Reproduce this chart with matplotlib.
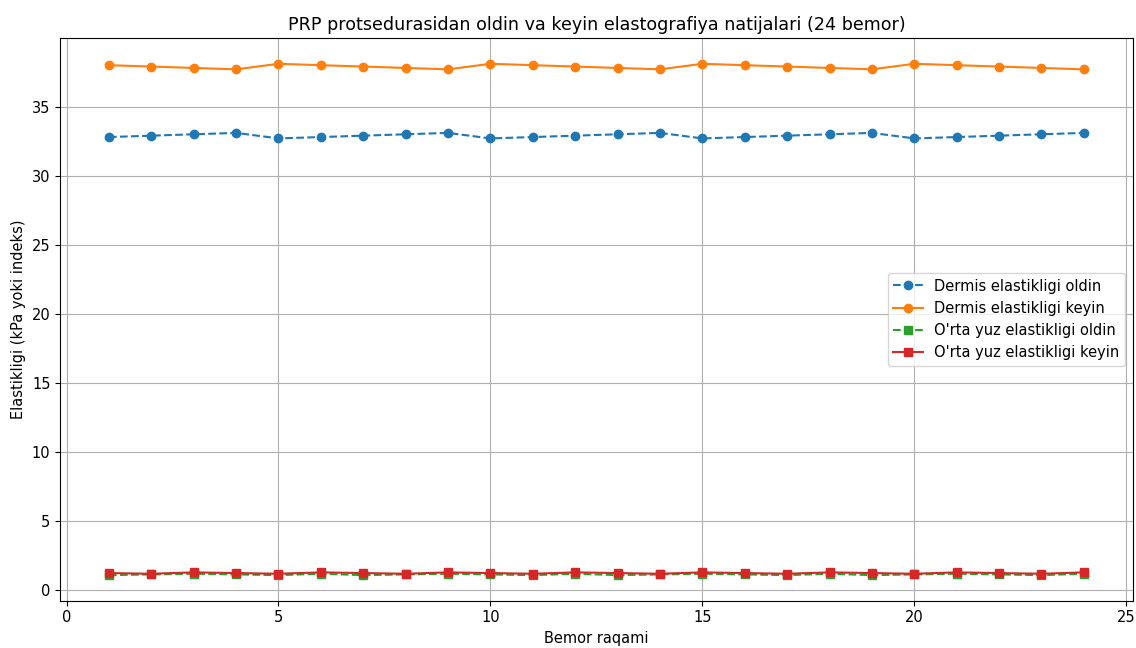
import matplotlib
matplotlib.use('Agg')
import matplotlib.pyplot as plt

# Patient numbers
patients = list(range(1, 25))

# Elastography values (kPa or index)
dermis_before = [32.8, 32.9, 33.0, 33.1, 32.7] * 4 + [32.8, 32.9, 33.0, 33.1]
dermis_after = [38.0, 37.9, 37.8, 37.7, 38.1] * 4 + [38.0, 37.9, 37.8, 37.7]
midface_before = [1.1, 1.15, 1.2, 1.15, 1.1, 1.2] * 4
midface_after = [1.25, 1.2, 1.3, 1.25, 1.2, 1.3] * 4

plt.rcParams['font.size'] = 10.5
plt.figure(figsize=(11.36, 6.48), dpi=100)

plt.plot(patients, dermis_before, label='Dermis elastikligi oldin', marker='o', linestyle='--', color='#1f77b4')
plt.plot(patients, dermis_after, label='Dermis elastikligi keyin', marker='o', linestyle='-', color='#ff7f0e')
plt.plot(patients, midface_before, label="O'rta yuz elastikligi oldin", marker='s', linestyle='--', color='#2ca02c')
plt.plot(patients, midface_after, label="O'rta yuz elastikligi keyin", marker='s', linestyle='-', color='#d62728')

plt.xlabel('Bemor raqami')
plt.ylabel('Elastikligi (kPa yoki indeks)')
plt.title('PRP protsedurasidan oldin va keyin elastografiya natijalari (24 bemor)')
plt.legend()
plt.grid(True)

plt.subplots_adjust(left=0.053, right=0.997, top=0.941, bottom=0.073)
plt.savefig('out.png', dpi=100)
